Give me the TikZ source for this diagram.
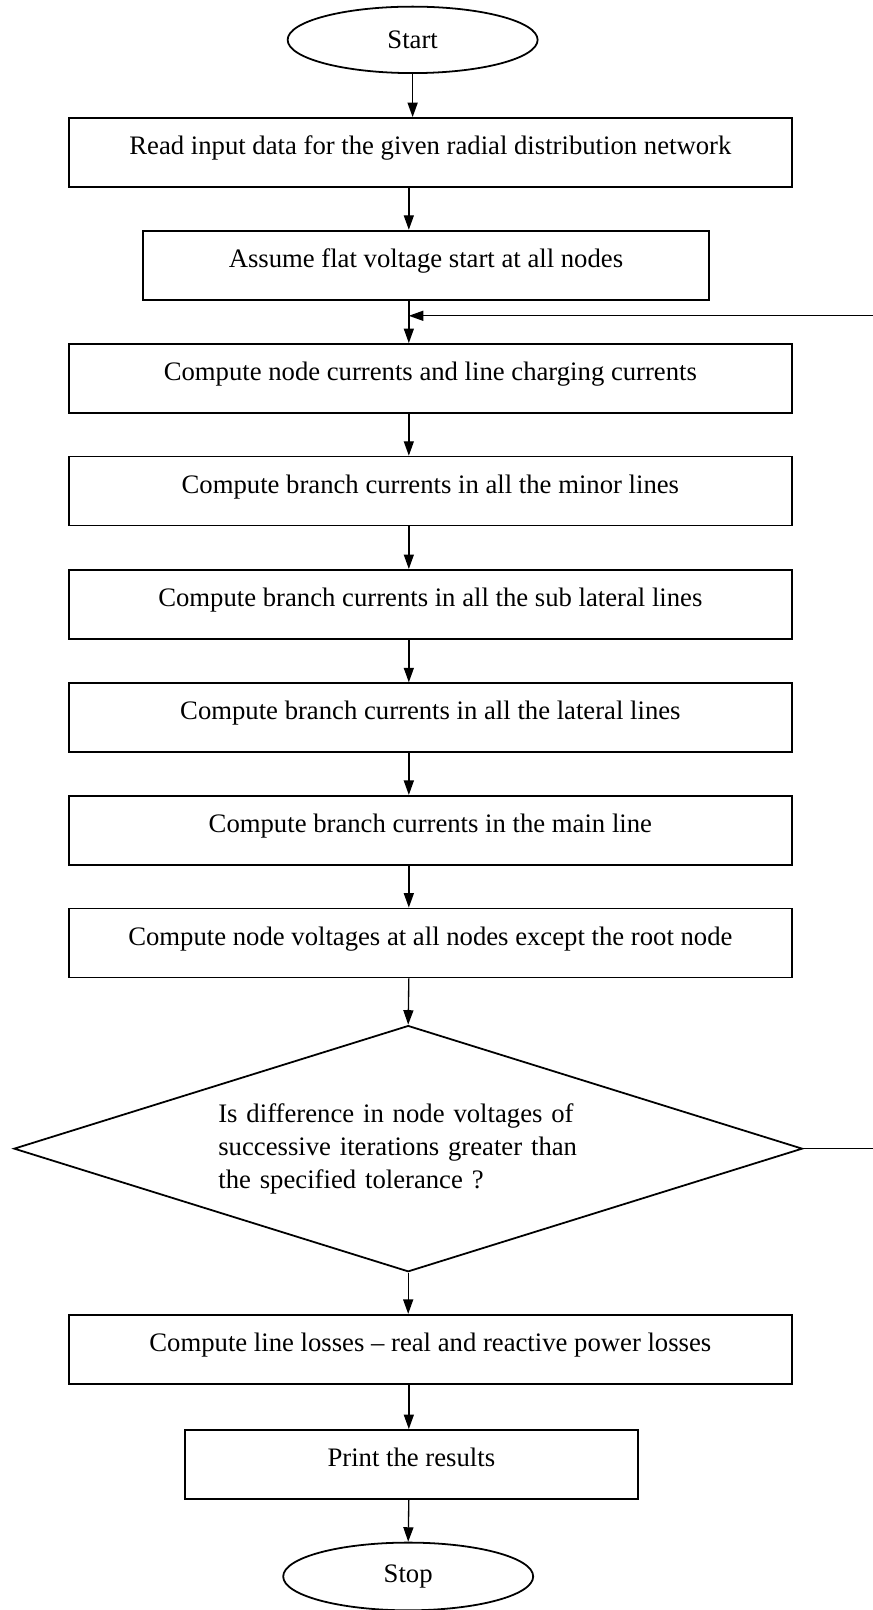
\documentclass[tikz,border=0pt]{standalone}
\usepackage{fontspec}
\setmainfont{Liberation Serif}
\usetikzlibrary{shapes.geometric,arrows.meta}

\begin{document}
\begin{tikzpicture}[>={Triangle[length=6.5pt,width=4.5pt]},line width=0.8pt,
  font=\fontsize{12}{14.8}\selectfont,
  box/.style={draw,rectangle,minimum height=1.09cm,inner sep=0pt,text height=9pt,text depth=7pt},
  term/.style={draw,ellipse,minimum width=3.95cm,minimum height=1.05cm,inner sep=0pt},
  decision/.style={draw,diamond,aspect=3.2,minimum width=12.46cm,minimum height=3.89cm,
    inner sep=0pt,text width=6.0cm,align=left},
  flow/.style={->,line width=0.6pt}]
%
% Seitenformat wie Vorlage
\useasboundingbox (0,0) rectangle (13.78,-25.44);
% Achse der Pfeile und Ruecklauf (rechts ausserhalb)
\coordinate (axis) at (6.46,0);
\coordinate (loop) at (14.2,0);
\coordinate (join) at (6.46,-4.99);
%
% --- Kaesten ---
\node[term] (start) at (6.52,-0.63) {Start};
\node[box,minimum width=11.42cm] (read) at (6.80,-2.41)
  {Read input data for the given radial distribution network};
\node[box,minimum width=8.94cm] (flat) at (6.73,-4.19)
  {Assume flat voltage start at all nodes};
\node[box,minimum width=11.42cm] (nodecur) at (6.80,-5.98)
  {Compute node currents and line charging currents};
\node[box,minimum width=11.42cm] (minor) at (6.80,-7.76)
  {Compute branch currents in all the minor lines};
\node[box,minimum width=11.42cm] (sublat) at (6.80,-9.55)
  {Compute branch currents in all the sub lateral lines};
\node[box,minimum width=11.42cm] (lateral) at (6.80,-11.34)
  {Compute branch currents in all the lateral lines};
\node[box,minimum width=11.42cm] (main) at (6.80,-13.12)
  {Compute branch currents in the main line};
\node[box,minimum width=11.42cm] (volt) at (6.80,-14.90)
  {Compute node voltages at all nodes except the root node};
% Abfrage
\node[decision] (check) at (6.45,-18.15)
  {Is difference in node voltages of\\ successive iterations greater than\\ the specified tolerance ?};
\node[box,minimum width=11.42cm] (loss) at (6.80,-21.32)
  {Compute line losses -- real and reactive power losses};
\node[box,minimum width=7.16cm] (print) at (6.50,-23.14) {Print the results};
\node[term,minimum height=1.07cm] (stop) at (6.45,-24.91) {Stop};
%
% --- Pfeile ---
\draw[flow] (start.south) -- (start.south |- read.north);
\draw[flow] (read.south -| axis) -- (flat.north -| axis);
\draw[flow] (flat.south -| axis) -- (nodecur.north -| axis);
\draw[flow] (nodecur.south -| axis) -- (minor.north -| axis);
\draw[flow] (minor.south -| axis) -- (sublat.north -| axis);
\draw[flow] (sublat.south -| axis) -- (lateral.north -| axis);
\draw[flow] (lateral.south -| axis) -- (main.north -| axis);
\draw[flow] (main.south -| axis) -- (volt.north -| axis);
\draw[flow] (volt.south -| axis) -- (check.north);
\draw[flow] (check.south) -- (check.south |- loss.north);
\draw[flow] (loss.south -| axis) -- (print.north -| axis);
\draw[flow] (print.south -| axis) -- (stop.north);
% Ruecklauf (Ja-Zweig)
\draw[flow] (check.east) -- (check.east -| loop) |- (join);
\end{tikzpicture}
\end{document}
